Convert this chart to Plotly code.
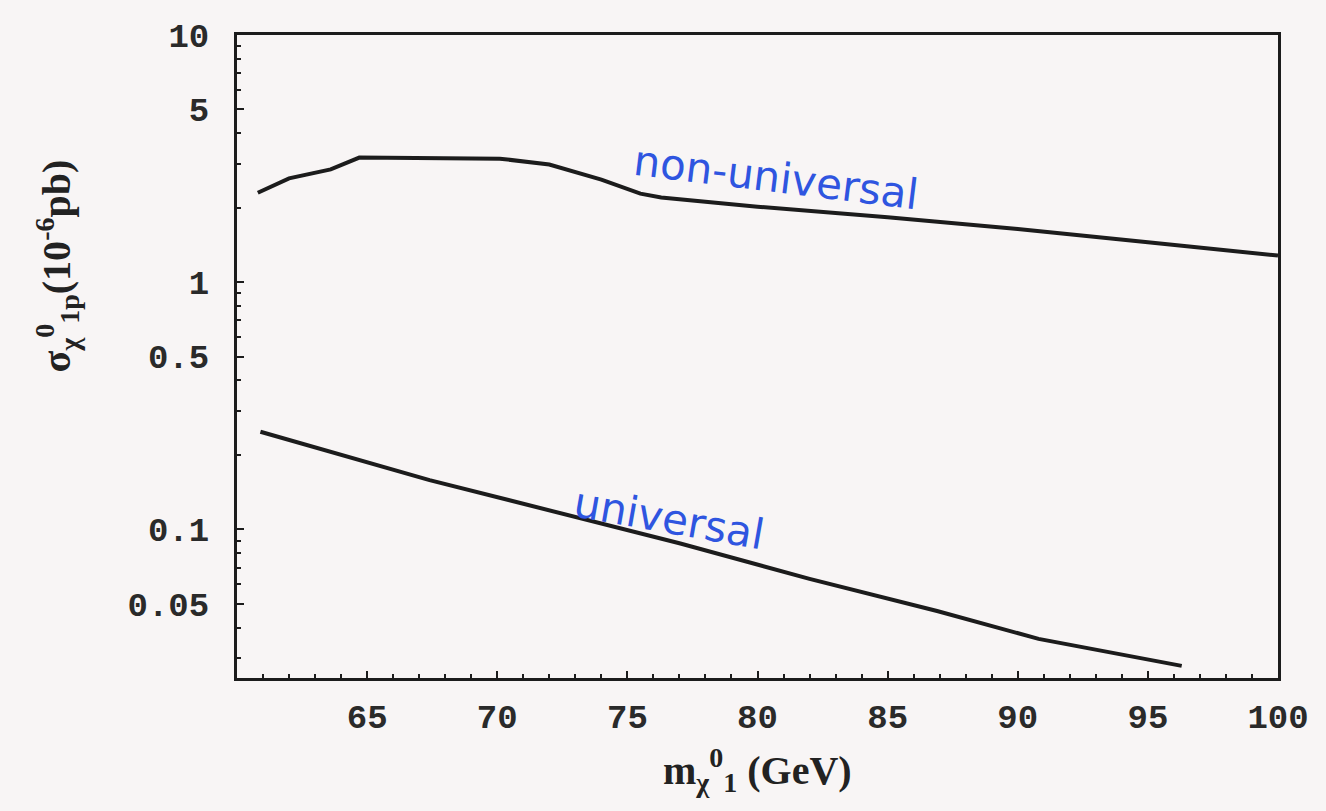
import plotly.graph_objects as go

# Data
mass_nonuniv = [60.8, 62.0, 63.6, 64.7, 70.1, 72.0, 74.0, 75.5, 76.3, 80.0, 85.0, 90.0, 95.0, 100.0]
sigma_nonuniv = [2.30, 2.63, 2.86, 3.19, 3.16, 2.99, 2.60, 2.28, 2.20, 2.02, 1.83, 1.64, 1.45, 1.28]

mass_univ = [60.9, 67.4, 77.0, 82.0, 86.9, 90.8, 96.3]
sigma_univ = [0.248, 0.158, 0.0878, 0.0630, 0.0467, 0.0360, 0.0280]

y_tickvals = [0.05, 0.1, 0.5, 1, 5, 10]
y_ticktext = ["0.05", "0.1", "0.5", "1", "5", "10"]
y_minor = [0.03, 0.04, 0.06, 0.07, 0.08, 0.09, 0.2, 0.3, 0.4, 0.6, 0.7, 0.8, 0.9,
           2, 3, 4, 6, 7, 8, 9]
x_tickvals = [65, 70, 75, 80, 85, 90, 95, 100]

line_color = "#1c1c1c"
bg = "#f8f5f5"
blue = "#2f55e0"

fig = go.Figure()
fig.add_trace(go.Scatter(x=mass_nonuniv, y=sigma_nonuniv, mode="lines",
                         line=dict(color=line_color, width=4), showlegend=False))
fig.add_trace(go.Scatter(x=mass_univ, y=sigma_univ, mode="lines",
                         line=dict(color=line_color, width=4), showlegend=False))

tickfont = dict(family="Liberation Mono", size=34, color="#2a2a2a", weight="bold")

fig.update_layout(
    width=1326, height=811,
    margin=dict(l=237, r=48, t=35, b=133),
    paper_bgcolor=bg, plot_bgcolor=bg,
    xaxis=dict(range=[60, 100], tickvals=x_tickvals, ticks="inside", ticklen=7,
               tickwidth=2, tickcolor=line_color, showline=True, linecolor=line_color,
               linewidth=3, mirror=True, showgrid=False, zeroline=False,
               tickfont=tickfont, ticklabelstandoff=6,
               minor=dict(dtick=1, ticks="inside", ticklen=4, tickwidth=1.5,
                          tickcolor=line_color, showgrid=False)),
    yaxis=dict(type="log", range=[-1.602, 1.0], tickvals=y_tickvals, ticktext=y_ticktext,
               ticks="inside", ticklen=7, tickwidth=2, tickcolor=line_color,
               showline=True, linecolor=line_color, linewidth=3, mirror=True,
               showgrid=False, zeroline=False, tickfont=tickfont, ticklabelstandoff=18,
               minor=dict(tickvals=y_minor, ticks="inside", ticklen=4, tickwidth=1.5,
                          tickcolor=line_color, showgrid=False)),
)

fig.add_annotation(text="m<sub>χ</sub><sup>0</sup><sub>1</sub> (GeV)", xref="paper", yref="paper",
                   x=0.5, y=0, yshift=-92, xanchor="center", yanchor="middle",
                   showarrow=False,
                   font=dict(family="Liberation Serif", size=40, color="#222222", weight="bold"))
fig.add_annotation(text="σ<sub>χ</sub><sup>0</sup><sub>1p</sub>(10<sup>-6</sup>pb)", xref="paper",
                   yref="paper", x=0, xshift=-180, y=0.64, xanchor="center",
                   yanchor="middle", textangle=-90, showarrow=False,
                   font=dict(family="Liberation Serif", size=40, color="#222222", weight="bold"))

fig.add_annotation(text="non-universal", x=80.7, y=0.423, xref="x", yref="y",
                   textangle=7, showarrow=False,
                   font=dict(family="DejaVu Sans", size=42, color=blue))
fig.add_annotation(text="universal", x=76.6, y=-0.956, xref="x", yref="y",
                   textangle=10, showarrow=False,
                   font=dict(family="DejaVu Sans", size=42, color=blue))

fig.write_html("out.html")
